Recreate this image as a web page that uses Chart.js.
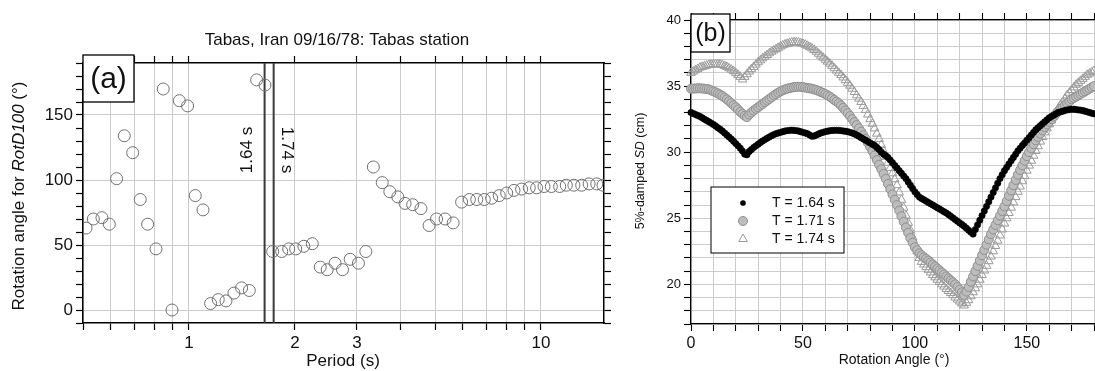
<!DOCTYPE html>
<html>
<head>
<meta charset="utf-8">
<script src="https://cdn.jsdelivr.net/npm/chart.js@4/dist/chart.umd.min.js"></script>
<style>
  html, body { margin: 0; padding: 0; background: #fff; overflow: hidden; }
  body { width: 1095px; height: 371px; position: relative; }
  canvas { position: absolute; top: 0; }
  #chartA { left: 0; width: 630px; height: 371px; }
  #chartB { left: 600px; width: 500px; height: 371px; }
</style>
</head>
<body>
<canvas id="chartA" width="630" height="371"></canvas>
<canvas id="chartB" width="500" height="371"></canvas>
<script>
// ---- panel (a): rotation angle for RotD100 vs period ----
const periods = [
  0.51, 0.535, 0.566, 0.594, 0.623, 0.655, 0.692, 0.727, 0.763, 0.806,
  0.845, 0.895, 0.939, 0.991, 1.042, 1.096, 1.152, 1.211, 1.274, 1.342,
  1.411, 1.484, 1.557, 1.644, 1.729, 1.834, 1.92, 2.01, 2.12, 2.24,
  2.36, 2.47, 2.6, 2.73, 2.87, 3.03, 3.18, 3.34, 3.54, 3.72,
  3.92, 4.11, 4.32, 4.56, 4.81, 5.05, 5.34, 5.63, 5.95, 6.26,
  6.57, 6.9, 7.24, 7.61, 7.99, 8.38, 8.81, 9.26, 9.72, 10.2,
  10.7, 11.3, 11.8, 12.4, 13.05, 13.7, 14.4, 15.0
];
const rotD100Angles = [
  63, 70, 71, 66, 101, 134, 121, 85, 66, 47,
  170, 0, 161, 157, 88, 77, 5, 8, 7, 13,
  17, 15, 177, 173, 45, 45, 47, 47, 49, 51,
  33, 31, 36, 31, 39, 36, 45, 110, 98, 91,
  87, 82, 81, 78, 65, 70, 70, 67, 83, 85,
  85, 85, 86, 88, 90, 92, 93, 94, 94, 95,
  95, 95, 96, 96, 96, 97, 97, 96
];
const markerPeriods = [1.64, 1.74];
const markerLabels = ['1.64 s', '1.74 s'];
const periodTicks = [0.5, 0.6, 0.7, 0.8, 0.9, 1, 2, 3, 4, 5, 6, 7, 8, 9, 10];
const periodTickLabels = [1, 2, 3, 10];
const angleTickLabels = [0, 50, 100, 150];

// ---- panel (b): 5%-damped SD vs rotation angle ----
const rotationAngles = [
  0, 1, 2, 3, 4, 5, 6, 7, 8, 9, 10, 11, 12, 13, 14, 15, 16, 17, 18, 19,
  20, 21, 22, 23, 24, 25, 26, 27, 28, 29, 30, 31, 32, 33, 34, 35, 36, 37, 38, 39,
  40, 41, 42, 43, 44, 45, 46, 47, 48, 49, 50, 51, 52, 53, 54, 55, 56, 57, 58, 59,
  60, 61, 62, 63, 64, 65, 66, 67, 68, 69, 70, 71, 72, 73, 74, 75, 76, 77, 78, 79,
  80, 81, 82, 83, 84, 85, 86, 87, 88, 89, 90, 91, 92, 93, 94, 95, 96, 97, 98, 99,
  100, 101, 102, 103, 104, 105, 106, 107, 108, 109, 110, 111, 112, 113, 114, 115, 116, 117, 118, 119,
  120, 121, 122, 123, 124, 125, 126, 127, 128, 129, 130, 131, 132, 133, 134, 135, 136, 137, 138, 139,
  140, 141, 142, 143, 144, 145, 146, 147, 148, 149, 150, 151, 152, 153, 154, 155, 156, 157, 158, 159,
  160, 161, 162, 163, 164, 165, 166, 167, 168, 169, 170, 171, 172, 173, 174, 175, 176, 177, 178, 179,
  180
];
const sd164 = [
  33.0, 32.93, 32.85, 32.78, 32.7, 32.6, 32.5, 32.4, 32.3, 32.2,
  32.1, 31.98, 31.85, 31.73, 31.6, 31.45, 31.3, 31.15, 31.0, 30.83,
  30.65, 30.48, 30.3, 30.08, 29.85, 29.8, 30.05, 30.2, 30.35, 30.48,
  30.6, 30.73, 30.85, 30.95, 31.05, 31.15, 31.25, 31.33, 31.4, 31.45,
  31.5, 31.55, 31.6, 31.63, 31.65, 31.66, 31.65, 31.63, 31.6, 31.55,
  31.5, 31.45, 31.4, 31.3, 31.2, 31.22, 31.3, 31.38, 31.45, 31.5,
  31.55, 31.59, 31.62, 31.64, 31.65, 31.65, 31.65, 31.63, 31.6, 31.58,
  31.55, 31.5, 31.45, 31.38, 31.3, 31.2, 31.1, 31.0, 30.9, 30.8,
  30.7, 30.6, 30.5, 30.35, 30.2, 30.0, 29.85, 29.73, 29.6, 29.4,
  29.2, 29.0, 28.8, 28.6, 28.4, 28.2, 28.0, 27.75, 27.5, 27.25,
  27.0, 26.8, 26.6, 26.5, 26.4, 26.3, 26.2, 26.1, 26.0, 25.9,
  25.8, 25.7, 25.6, 25.5, 25.4, 25.28, 25.15, 25.03, 24.9, 24.78,
  24.65, 24.53, 24.4, 24.25, 24.1, 23.95, 23.8, 24.15, 24.5, 24.85,
  25.2, 25.55, 25.9, 26.25, 26.6, 26.95, 27.3, 27.65, 28.0, 28.3,
  28.6, 28.85, 29.1, 29.35, 29.6, 29.85, 30.1, 30.3, 30.5, 30.7,
  30.9, 31.1, 31.3, 31.5, 31.7, 31.85, 32.0, 32.15, 32.3, 32.45,
  32.6, 32.7, 32.8, 32.9, 33.0, 33.05, 33.1, 33.15, 33.2, 33.22,
  33.25, 33.25, 33.22, 33.2, 33.18, 33.15, 33.1, 33.05, 33.0, 32.95,
  32.9
];
const sd171 = [
  34.8, 34.81, 34.82, 34.83, 34.83, 34.82, 34.8, 34.78, 34.75, 34.68,
  34.6, 34.53, 34.45, 34.35, 34.25, 34.13, 34.0, 33.85, 33.7, 33.55,
  33.4, 33.23, 33.05, 32.9, 32.75, 32.65, 32.85, 33.0, 33.15, 33.28,
  33.4, 33.53, 33.65, 33.78, 33.9, 34.03, 34.15, 34.28, 34.4, 34.5,
  34.6, 34.68, 34.75, 34.8, 34.85, 34.89, 34.92, 34.94, 34.95, 34.94,
  34.92, 34.89, 34.85, 34.83, 34.8, 34.75, 34.7, 34.63, 34.55, 34.48,
  34.4, 34.3, 34.2, 34.08, 33.95, 33.83, 33.7, 33.53, 33.35, 33.15,
  32.95, 32.73, 32.5, 32.28, 32.05, 31.8, 31.55, 31.28, 31.0, 30.7,
  30.4, 30.08, 29.75, 29.4, 29.05, 28.7, 28.35, 27.98, 27.6, 27.2,
  26.8, 26.4, 26.0, 25.58, 25.15, 24.73, 24.3, 23.9, 23.5, 23.15,
  22.8, 22.58, 22.35, 22.2, 22.05, 21.93, 21.8, 21.65, 21.5, 21.35,
  21.2, 21.05, 20.9, 20.75, 20.6, 20.45, 20.3, 20.15, 20.0, 19.8,
  19.6, 19.4, 19.2, 19.45, 19.8, 20.2, 20.6, 21.0, 21.4, 21.8,
  22.2, 22.6, 23.0, 23.4, 23.8, 24.15, 24.5, 24.85, 25.2, 25.55,
  25.9, 26.3, 26.7, 27.1, 27.5, 27.9, 28.3, 28.65, 29.0, 29.35,
  29.7, 30.0, 30.3, 30.6, 30.9, 31.15, 31.4, 31.65, 31.9, 32.1,
  32.3, 32.5, 32.7, 32.9, 33.1, 33.25, 33.4, 33.55, 33.7, 33.85,
  34.0, 34.1, 34.2, 34.3, 34.4, 34.5, 34.6, 34.7, 34.8, 34.9,
  35.0
];
const sd174 = [
  36.0, 36.1, 36.2, 36.3, 36.4, 36.45, 36.5, 36.55, 36.6, 36.63,
  36.65, 36.65, 36.65, 36.63, 36.6, 36.53, 36.45, 36.35, 36.25, 36.13,
  36.0, 35.85, 35.7, 35.5, 35.7, 35.9, 36.1, 36.28, 36.45, 36.63,
  36.8, 36.95, 37.1, 37.23, 37.35, 37.48, 37.6, 37.7, 37.8, 37.9,
  38.0, 38.08, 38.15, 38.2, 38.25, 38.3, 38.32, 38.32, 38.3, 38.25,
  38.2, 38.13, 38.05, 37.95, 37.85, 37.73, 37.6, 37.45, 37.3, 37.15,
  37.0, 36.85, 36.7, 36.53, 36.35, 36.18, 36.0, 35.83, 35.65, 35.45,
  35.25, 35.03, 34.8, 34.55, 34.3, 34.05, 33.8, 33.5, 33.2, 32.85,
  32.5, 32.15, 31.8, 31.4, 31.0, 30.55, 30.1, 29.65, 29.2, 28.8,
  28.4, 27.95, 27.5, 26.95, 26.4, 25.8, 25.2, 24.65, 24.1, 23.55,
  23.0, 22.5, 22.0, 21.7, 21.5, 21.3, 21.1, 20.9, 20.7, 20.53,
  20.35, 20.18, 20.0, 19.83, 19.65, 19.5, 19.35, 19.18, 19.0, 18.85,
  18.7, 18.55, 18.4, 18.6, 18.8, 19.1, 19.4, 19.7, 20.0, 20.35,
  20.7, 21.05, 21.4, 21.75, 22.1, 22.5, 22.9, 23.3, 23.7, 24.15,
  24.6, 25.0, 25.4, 25.8, 26.2, 26.6, 27.0, 27.4, 27.8, 28.2,
  28.6, 28.98, 29.35, 29.73, 30.1, 30.45, 30.8, 31.15, 31.5, 31.8,
  32.1, 32.4, 32.7, 33.0, 33.3, 33.55, 33.8, 34.05, 34.3, 34.5,
  34.7, 34.9, 35.1, 35.25, 35.4, 35.55, 35.7, 35.85, 35.95, 36.05,
  36.15
];
const seriesLabels = ['T = 1.64 s', 'T = 1.71 s', 'T = 1.74 s'];
const sdTickLabels = [20, 25, 30, 35, 40];
const rotationTickLabels = [0, 50, 100, 150];

const FONT = "'Liberation Sans', Arial, Helvetica, sans-serif";
const GRID = '#cccccc';
Chart.defaults.font.family = FONT;
Chart.defaults.color = '#111';

// draws text made of several runs (for the italic bits) centred on cx, cy
function drawRuns(ctx, runs, cx, cy, angle) {
  ctx.save();
  ctx.translate(cx, cy);
  ctx.rotate(angle);
  ctx.textBaseline = 'middle';
  ctx.textAlign = 'left';
  ctx.fillStyle = '#111';
  let total = 0;
  runs.forEach((r) => { ctx.font = r.font; total += ctx.measureText(r.text).width; });
  let x = -total / 2;
  runs.forEach((r) => {
    ctx.font = r.font;
    ctx.fillText(r.text, x, 0);
    x += ctx.measureText(r.text).width;
  });
  ctx.restore();
}

function panelLabel(ctx, text, x, y, w, h, size) {
  ctx.save();
  ctx.fillStyle = '#fff';
  ctx.fillRect(x, y, w, h);
  ctx.strokeStyle = '#000';
  ctx.lineWidth = 1.3;
  ctx.strokeRect(x, y, w, h);
  ctx.fillStyle = '#111';
  ctx.font = size + 'px ' + FONT;
  ctx.textAlign = 'center';
  ctx.textBaseline = 'middle';
  ctx.fillText(text, x + w / 2, y + h / 2 + 1);
  ctx.restore();
}

// ---------------- chart (a) ----------------
const periodTickOpts = (position, showLabels) => ({
  type: 'logarithmic',
  position: position,
  min: 0.5,
  max: 15.1,
  afterBuildTicks: (scale) => {
    scale.ticks = periodTicks.map((v) => ({ value: v }));
  },
  afterFit: (scale) => { scale.height = position === 'top' ? 63 : 48; },
  ticks: {
    display: showLabels,
    autoSkip: false,
    maxRotation: 0,
    padding: 3,
    font: { size: 17 },
    color: '#111',
    callback: (v) => (periodTickLabels.includes(v) ? String(v) : ''),
  },
  grid: {
    color: GRID,
    drawOnChartArea: showLabels,
    tickColor: '#000',
    tickLength: 7,
    tickWidth: 1.2,
  },
  border: { display: true, color: '#000', width: 1.5 },
});

const angleAxisOpts = (position, showLabels) => ({
  type: 'linear',
  position: position,
  min: -10,
  max: 190,
  afterFit: (scale) => { scale.width = position === 'left' ? 83 : 26; },
  ticks: {
    display: showLabels,
    stepSize: 10,
    autoSkip: false,
    padding: 3,
    font: { size: 17 },
    color: '#111',
    callback: (v) => (angleTickLabels.includes(v) ? String(v) : ''),
  },
  grid: {
    drawOnChartArea: showLabels,
    color: (c) => (c.tick && angleTickLabels.includes(c.tick.value) ? GRID : 'rgba(0,0,0,0)'),
    tickColor: '#000',
    tickLength: 7,
    tickWidth: 1.2,
  },
  border: { display: true, color: '#000', width: 1.5 },
});

const panelAText = {
  id: 'panelAText',
  afterDraw(chart) {
    const ctx = chart.ctx;
    const xs = chart.scales.x;
    ctx.save();
    ctx.fillStyle = '#111';
    ctx.font = '17px ' + FONT;
    ctx.textAlign = 'center';
    ctx.textBaseline = 'middle';
    ctx.fillText('Tabas, Iran 09/16/78: Tabas station', 337, 40);
    ctx.fillText('Period (s)', 343, 361);
    ctx.restore();

    drawRuns(ctx, [
      { text: 'Rotation angle for ', font: '17px ' + FONT },
      { text: 'RotD100', font: 'italic 17px ' + FONT },
      { text: ' (\u00b0)', font: '17px ' + FONT },
    ], 19, 196, -Math.PI / 2);

    markerPeriods.forEach((p, i) => {
      const px = xs.getPixelForValue(p);
      if (i === 0) {
        drawRuns(ctx, [{ text: markerLabels[i], font: '17px ' + FONT }], px - 17, 150, -Math.PI / 2);
      } else {
        drawRuns(ctx, [{ text: markerLabels[i], font: '17px ' + FONT }], px + 13, 150, Math.PI / 2);
      }
    });

    panelLabel(ctx, '(a)', 83, 55, 51, 47, 30);
  },
};

new Chart(document.getElementById('chartA'), {
  type: 'scatter',
  data: {
    datasets: [
      {
        label: 'RotD100 angle',
        data: periods.map((p, i) => ({ x: p, y: rotD100Angles[i] })),
        pointStyle: 'circle',
        pointRadius: 6,
        pointBorderWidth: 1,
        pointBorderColor: '#707070',
        pointBackgroundColor: 'rgba(0,0,0,0)',
      },
      ...markerPeriods.map((p) => ({
        label: 'T = ' + p,
        data: [{ x: p, y: -10 }, { x: p, y: 190 }],
        showLine: true,
        pointRadius: 0,
        borderColor: '#3a3a3a',
        borderWidth: 2,
      })),
    ],
  },
  options: {
    responsive: false,
    animation: false,
    devicePixelRatio: 1,
    layout: { padding: 0 },
    plugins: { legend: { display: false }, title: { display: false }, tooltip: { enabled: false } },
    scales: {
      x: periodTickOpts('bottom', true),
      xTop: periodTickOpts('top', false),
      y: angleAxisOpts('left', true),
      yRight: angleAxisOpts('right', false),
    },
  },
  plugins: [panelAText],
});

// ---------------- chart (b) ----------------
const seriesStyles = [
  { pointStyle: 'circle', radius: 3.2, fill: '#000', border: '#000', width: 0.5, legendRadius: 2.6 },
  { pointStyle: 'circle', radius: 4.5, fill: '#bdbdbd', border: '#8f8f8f', width: 1, legendRadius: 4.5 },
  { pointStyle: 'triangle', radius: 5, fill: 'rgba(0,0,0,0)', border: '#9a9a9a', width: 1, legendRadius: 5 },
];
const sdSeries = [sd164, sd171, sd174];

const rotAxisOpts = (position, showLabels) => ({
  type: 'linear',
  position: position,
  min: 0,
  max: 180,
  afterFit: (scale) => { scale.height = position === 'top' ? 20 : 47; },
  ticks: {
    display: showLabels,
    stepSize: 10,
    autoSkip: false,
    maxRotation: 0,
    padding: 3,
    font: { size: 16 },
    color: '#111',
    callback: (v) => (rotationTickLabels.includes(v) ? String(v) : ''),
  },
  grid: {
    color: GRID,
    drawOnChartArea: showLabels,
    tickColor: '#000',
    tickLength: 7,
    tickWidth: 1.1,
  },
  border: { display: true, color: '#000', width: 1.3 },
});

const panelBText = {
  id: 'panelBText',
  afterDraw(chart) {
    const ctx = chart.ctx;
    const ox = 600; // canvas offset on the page
    drawRuns(ctx, [
      { text: '5%-damped ', font: '12.5px ' + FONT },
      { text: 'SD', font: 'italic 12.5px ' + FONT },
      { text: ' (cm)', font: '12.5px ' + FONT },
    ], 641 - ox, 171, -Math.PI / 2);
    drawRuns(ctx, [{ text: 'Rotation Angle (\u00b0)', font: '14px ' + FONT }], 894 - ox, 360, 0);

    panelLabel(ctx, '(b)', 691 - ox, 14, 39, 38, 25);

    // legend
    const lx = 711 - ox, ly = 187, lw = 133, lh = 66;
    ctx.save();
    ctx.fillStyle = '#fff';
    ctx.fillRect(lx, ly, lw, lh);
    ctx.strokeStyle = '#000';
    ctx.lineWidth = 1;
    ctx.strokeRect(lx, ly, lw, lh);
    seriesLabels.forEach((label, i) => {
      const s = seriesStyles[i];
      const y = ly + 16 + i * 18;
      ctx.fillStyle = s.fill;
      ctx.strokeStyle = s.border;
      ctx.lineWidth = s.width;
      Chart.helpers.drawPoint(ctx, { pointStyle: s.pointStyle, radius: s.legendRadius, rotation: 0, borderWidth: s.width }, 743 - ox, y);
      ctx.fillStyle = '#111';
      ctx.font = '14px ' + FONT;
      ctx.textAlign = 'left';
      ctx.textBaseline = 'middle';
      ctx.fillText(label, 772 - ox, y);
    });
    ctx.restore();
  },
};

new Chart(document.getElementById('chartB'), {
  type: 'scatter',
  data: {
    datasets: sdSeries.map((values, i) => ({
      label: seriesLabels[i],
      data: rotationAngles.map((a, j) => ({ x: a, y: values[j] })),
      pointStyle: seriesStyles[i].pointStyle,
      pointRadius: seriesStyles[i].radius,
      pointBackgroundColor: seriesStyles[i].fill,
      pointBorderColor: seriesStyles[i].border,
      pointBorderWidth: seriesStyles[i].width,
      clip: false,
    })),
  },
  options: {
    responsive: false,
    animation: false,
    devicePixelRatio: 1,
    layout: { padding: { right: 3 } },
    plugins: { legend: { display: false }, title: { display: false }, tooltip: { enabled: false } },
    scales: {
      x: rotAxisOpts('bottom', true),
      xTop: rotAxisOpts('top', false),
      y: {
        type: 'linear',
        position: 'left',
        min: 17,
        max: 40,
        afterFit: (scale) => { scale.width = 91; },
        ticks: {
          stepSize: 1,
          autoSkip: false,
          padding: 3,
          font: { size: 13 },
          color: '#111',
          callback: (v) => (sdTickLabels.includes(v) ? String(v) : ''),
        },
        grid: { color: GRID, tickColor: '#000', tickLength: 7, tickWidth: 1.1 },
        border: { display: true, color: '#000', width: 1.3 },
      },
    },
  },
  plugins: [panelBText],
});
</script>
</body>
</html>
